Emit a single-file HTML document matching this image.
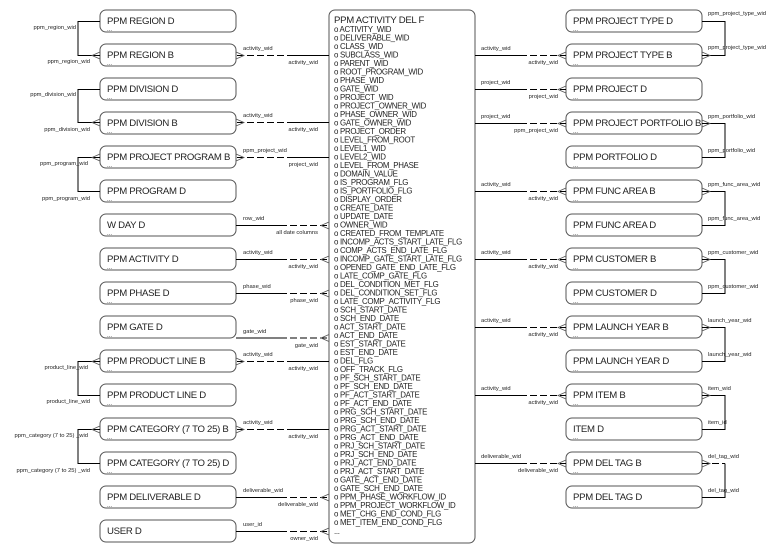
<!DOCTYPE html>
<html><head><meta charset="utf-8"><style>
html,body{margin:0;padding:0;background:#fff;}
svg{display:block;font-family:"Liberation Sans",Arial,sans-serif;}
.b{fill:#fff;stroke:#555;stroke-width:1;}
.t{font-size:9.6px;fill:#222;letter-spacing:-0.3px;}
.d{font-size:6px;fill:#444;}
.l{font-size:5.8px;fill:#222;}
.a{font-size:7.9px;fill:#222;letter-spacing:-0.3px;}
.s{stroke:#000;stroke-width:1;fill:none;}
.ds{stroke:#000;stroke-width:1;fill:none;stroke-dasharray:7,3;}
.f{stroke:#555;stroke-width:0.8;fill:none;}
</style></head><body>
<svg width="780" height="554" viewBox="0 0 780 554">
<g>
<rect class="b" x="100" y="10" width="136" height="22" rx="6"/><text class="t" x="107" y="24">PPM REGION D</text><text class="d" x="107" y="31">...</text>
<rect class="b" x="100" y="44" width="136" height="22" rx="6"/><text class="t" x="107" y="58">PPM REGION B</text><text class="d" x="107" y="65">...</text>
<rect class="b" x="100" y="78" width="136" height="22" rx="6"/><text class="t" x="107" y="92">PPM DIVISION D</text><text class="d" x="107" y="99">...</text>
<rect class="b" x="100" y="112" width="136" height="22" rx="6"/><text class="t" x="107" y="126">PPM DIVISION B</text><text class="d" x="107" y="133">...</text>
<rect class="b" x="100" y="146" width="136" height="22" rx="6"/><text class="t" x="107" y="160">PPM PROJECT PROGRAM B</text><text class="d" x="107" y="167">...</text>
<rect class="b" x="100" y="180" width="136" height="22" rx="6"/><text class="t" x="107" y="194">PPM PROGRAM D</text><text class="d" x="107" y="201">...</text>
<rect class="b" x="100" y="214" width="136" height="22" rx="6"/><text class="t" x="107" y="228">W DAY D</text><text class="d" x="107" y="235">...</text>
<rect class="b" x="100" y="248" width="136" height="22" rx="6"/><text class="t" x="107" y="262">PPM ACTIVITY D</text><text class="d" x="107" y="269">...</text>
<rect class="b" x="100" y="282" width="136" height="22" rx="6"/><text class="t" x="107" y="296">PPM PHASE D</text><text class="d" x="107" y="303">...</text>
<rect class="b" x="100" y="316" width="136" height="22" rx="6"/><text class="t" x="107" y="330">PPM GATE D</text><text class="d" x="107" y="337">...</text>
<rect class="b" x="100" y="350" width="136" height="22" rx="6"/><text class="t" x="107" y="364">PPM PRODUCT LINE B</text><text class="d" x="107" y="371">...</text>
<rect class="b" x="100" y="384" width="136" height="22" rx="6"/><text class="t" x="107" y="398">PPM PRODUCT LINE D</text><text class="d" x="107" y="405">...</text>
<rect class="b" x="100" y="418" width="136" height="22" rx="6"/><text class="t" x="107" y="432">PPM CATEGORY (7 TO 25) B</text><text class="d" x="107" y="439">...</text>
<rect class="b" x="100" y="452" width="136" height="22" rx="6"/><text class="t" x="107" y="466">PPM CATEGORY (7 TO 25) D</text><text class="d" x="107" y="473">...</text>
<rect class="b" x="100" y="486" width="136" height="22" rx="6"/><text class="t" x="107" y="500">PPM DELIVERABLE D</text><text class="d" x="107" y="507">...</text>
<rect class="b" x="100" y="520" width="136" height="22" rx="6"/><text class="t" x="107" y="534">USER D</text>
</g>
<g>
<rect class="b" x="566" y="10" width="136" height="22" rx="6"/><text class="t" x="573" y="24">PPM PROJECT TYPE D</text><text class="d" x="573" y="31">...</text>
<rect class="b" x="566" y="44" width="136" height="22" rx="6"/><text class="t" x="573" y="58">PPM PROJECT TYPE B</text><text class="d" x="573" y="65">...</text>
<rect class="b" x="566" y="78" width="136" height="22" rx="6"/><text class="t" x="573" y="92">PPM PROJECT D</text><text class="d" x="573" y="99">...</text>
<rect class="b" x="566" y="112" width="136" height="22" rx="6"/><text class="t" x="573" y="126">PPM PROJECT PORTFOLIO B</text><text class="d" x="573" y="133">...</text>
<rect class="b" x="566" y="146" width="136" height="22" rx="6"/><text class="t" x="573" y="160">PPM PORTFOLIO D</text><text class="d" x="573" y="167">...</text>
<rect class="b" x="566" y="180" width="136" height="22" rx="6"/><text class="t" x="573" y="194">PPM FUNC AREA B</text><text class="d" x="573" y="201">...</text>
<rect class="b" x="566" y="214" width="136" height="22" rx="6"/><text class="t" x="573" y="228">PPM FUNC AREA D</text><text class="d" x="573" y="235">...</text>
<rect class="b" x="566" y="248" width="136" height="22" rx="6"/><text class="t" x="573" y="262">PPM CUSTOMER B</text><text class="d" x="573" y="269">...</text>
<rect class="b" x="566" y="282" width="136" height="22" rx="6"/><text class="t" x="573" y="296">PPM CUSTOMER D</text><text class="d" x="573" y="303">...</text>
<rect class="b" x="566" y="316" width="136" height="22" rx="6"/><text class="t" x="573" y="330">PPM LAUNCH YEAR B</text><text class="d" x="573" y="337">...</text>
<rect class="b" x="566" y="350" width="136" height="22" rx="6"/><text class="t" x="573" y="364">PPM LAUNCH YEAR D</text><text class="d" x="573" y="371">...</text>
<rect class="b" x="566" y="384" width="136" height="22" rx="6"/><text class="t" x="573" y="398">PPM ITEM B</text><text class="d" x="573" y="405">...</text>
<rect class="b" x="566" y="418" width="136" height="22" rx="6"/><text class="t" x="573" y="432">ITEM D</text><text class="d" x="573" y="439">...</text>
<rect class="b" x="566" y="452" width="136" height="22" rx="6"/><text class="t" x="573" y="466">PPM DEL TAG B</text><text class="d" x="573" y="473">...</text>
<rect class="b" x="566" y="486" width="136" height="22" rx="6"/><text class="t" x="573" y="500">PPM DEL TAG D</text><text class="d" x="573" y="507">...</text>
</g>
<rect class="b" x="329" y="10" width="146" height="533" rx="6"/>
<text class="t" x="334" y="23">PPM ACTIVITY DEL F</text>
<g class="a">
<text x="334" y="32">o ACTIVITY_WID</text>
<text x="334" y="40.5">o DELIVERABLE_WID</text>
<text x="334" y="49">o CLASS_WID</text>
<text x="334" y="57.5">o SUBCLASS_WID</text>
<text x="334" y="66">o PARENT_WID</text>
<text x="334" y="74.5">o ROOT_PROGRAM_WID</text>
<text x="334" y="83">o PHASE_WID</text>
<text x="334" y="91.5">o GATE_WID</text>
<text x="334" y="100">o PROJECT_WID</text>
<text x="334" y="108.5">o PROJECT_OWNER_WID</text>
<text x="334" y="117">o PHASE_OWNER_WID</text>
<text x="334" y="125.5">o GATE_OWNER_WID</text>
<text x="334" y="134">o PROJECT_ORDER</text>
<text x="334" y="142.5">o LEVEL_FROM_ROOT</text>
<text x="334" y="151">o LEVEL1_WID</text>
<text x="334" y="159.5">o LEVEL2_WID</text>
<text x="334" y="168">o LEVEL_FROM_PHASE</text>
<text x="334" y="176.5">o DOMAIN_VALUE</text>
<text x="334" y="185">o IS_PROGRAM_FLG</text>
<text x="334" y="193.5">o IS_PORTFOLIO_FLG</text>
<text x="334" y="202">o DISPLAY_ORDER</text>
<text x="334" y="210.5">o CREATE_DATE</text>
<text x="334" y="219">o UPDATE_DATE</text>
<text x="334" y="227.5">o OWNER_WID</text>
<text x="334" y="236">o CREATED_FROM_TEMPLATE</text>
<text x="334" y="244.5">o INCOMP_ACTS_START_LATE_FLG</text>
<text x="334" y="253">o COMP_ACTS_END_LATE_FLG</text>
<text x="334" y="261.5">o INCOMP_GATE_START_LATE_FLG</text>
<text x="334" y="270">o OPENED_GATE_END_LATE_FLG</text>
<text x="334" y="278.5">o LATE_COMP_GATE_FLG</text>
<text x="334" y="287">o DEL_CONDITION_MET_FLG</text>
<text x="334" y="295.5">o DEL_CONDITION_SET_FLG</text>
<text x="334" y="304">o LATE_COMP_ACTIVITY_FLG</text>
<text x="334" y="312.5">o SCH_START_DATE</text>
<text x="334" y="321">o SCH_END_DATE</text>
<text x="334" y="329.5">o ACT_START_DATE</text>
<text x="334" y="338">o ACT_END_DATE</text>
<text x="334" y="346.5">o EST_START_DATE</text>
<text x="334" y="355">o EST_END_DATE</text>
<text x="334" y="363.5">o DEL_FLG</text>
<text x="334" y="372">o OFF_TRACK_FLG</text>
<text x="334" y="380.5">o PF_SCH_START_DATE</text>
<text x="334" y="389">o PF_SCH_END_DATE</text>
<text x="334" y="397.5">o PF_ACT_START_DATE</text>
<text x="334" y="406">o PF_ACT_END_DATE</text>
<text x="334" y="414.5">o PRG_SCH_START_DATE</text>
<text x="334" y="423">o PRG_SCH_END_DATE</text>
<text x="334" y="431.5">o PRG_ACT_START_DATE</text>
<text x="334" y="440">o PRG_ACT_END_DATE</text>
<text x="334" y="448.5">o PRJ_SCH_START_DATE</text>
<text x="334" y="457">o PRJ_SCH_END_DATE</text>
<text x="334" y="465.5">o PRJ_ACT_END_DATE</text>
<text x="334" y="474">o PRJ_ACT_START_DATE</text>
<text x="334" y="482.5">o GATE_ACT_END_DATE</text>
<text x="334" y="491">o GATE_SCH_END_DATE</text>
<text x="334" y="499.5">o PPM_PHASE_WORKFLOW_ID</text>
<text x="334" y="508">o PPM_PROJECT_WORKFLOW_ID</text>
<text x="334" y="516.5">o MET_CHG_END_COND_FLG</text>
<text x="334" y="525">o MET_ITEM_END_COND_FLG</text>
<text x="334" y="534">...</text>
</g>

<g>
<path class="ds" d="M237 55.5H292"/><path class="s" d="M292 55.5H329"/><path class="f" d="M236 52L244 55.5L236 59"/>
<text class="l" x="243" y="50">activity_wid</text><text class="l" x="318" y="64" text-anchor="end">activity_wid</text>
<path class="ds" d="M237 122.5H292"/><path class="s" d="M292 122.5H329"/><path class="f" d="M236 119L244 122.5L236 126"/>
<text class="l" x="243" y="117">activity_wid</text><text class="l" x="318" y="131" text-anchor="end">activity_wid</text>
<path class="ds" d="M237 157.5H292"/><path class="s" d="M292 157.5H329"/><path class="f" d="M236 154L244 157.5L236 161"/>
<text class="l" x="243" y="152">ppm_project_wid</text><text class="l" x="318" y="166" text-anchor="end">project_wid</text>
<path class="ds" d="M237 361.5H292"/><path class="s" d="M292 361.5H329"/><path class="f" d="M236 358L244 361.5L236 365"/>
<text class="l" x="243" y="356">activity_wid</text><text class="l" x="318" y="370" text-anchor="end">activity_wid</text>
<path class="ds" d="M237 429.5H292"/><path class="s" d="M292 429.5H329"/><path class="f" d="M236 426L244 429.5L236 433"/>
<text class="l" x="243" y="424">activity_wid</text><text class="l" x="318" y="438" text-anchor="end">activity_wid</text>
</g>
<g>
<path class="s" d="M236 225.5H280"/><path class="ds" d="M280 225.5H329"/><path class="f" d="M329 222L321 225.5L329 229"/>
<text class="l" x="243" y="220">row_wid</text><text class="l" x="318" y="234" text-anchor="end">all date columns</text>
<path class="s" d="M236 259.5H280"/><path class="ds" d="M280 259.5H329"/><path class="f" d="M329 256L321 259.5L329 263"/>
<text class="l" x="243" y="254">activity_wid</text><text class="l" x="318" y="268" text-anchor="end">activity_wid</text>
<path class="s" d="M236 293.5H280"/><path class="ds" d="M280 293.5H329"/><path class="f" d="M329 290L321 293.5L329 297"/>
<text class="l" x="243" y="288">phase_wid</text><text class="l" x="318" y="302" text-anchor="end">phase_wid</text>
<path class="s" d="M236 338H280"/><path class="ds" d="M280 338H329"/><path class="f" d="M329 334.5L321 338L329 341.5"/>
<text class="l" x="243" y="333">gate_wid</text><text class="l" x="318" y="347" text-anchor="end">gate_wid</text>
<path class="s" d="M236 497.5H280"/><path class="ds" d="M280 497.5H329"/><path class="f" d="M329 494L321 497.5L329 501"/>
<text class="l" x="243" y="492">deliverable_wid</text><text class="l" x="318" y="506" text-anchor="end">deliverable_wid</text>
<path class="s" d="M236 531.5H280"/><path class="ds" d="M280 531.5H329"/><path class="f" d="M329 528L321 531.5L329 535"/>
<text class="l" x="243" y="526">user_id</text><text class="l" x="318" y="540" text-anchor="end">owner_wid</text>
</g>
<g>
<path class="s" d="M100 21.5H78V55.5H100"/><path class="f" d="M100 52L92 55.5L100 59"/>
<text class="l" x="76" y="29" text-anchor="end">ppm_region_wid</text><text class="l" x="90" y="63" text-anchor="end">ppm_region_wid</text>
<path class="s" d="M100 89.5H78V122.5H100"/><path class="f" d="M100 119L92 122.5L100 126"/>
<text class="l" x="76" y="96" text-anchor="end">ppm_division_wid</text><text class="l" x="90" y="131" text-anchor="end">ppm_division_wid</text>
<path class="s" d="M100 157.5H78V191.5H100"/><path class="f" d="M100 154L92 157.5L100 161"/>
<text class="l" x="88" y="165" text-anchor="end">ppm_program_wid</text><text class="l" x="90" y="200" text-anchor="end">ppm_program_wid</text>
<path class="s" d="M100 361.5H78V395.5H100"/><path class="f" d="M100 358L92 361.5L100 365"/>
<text class="l" x="88" y="369" text-anchor="end">product_line_wid</text><text class="l" x="90" y="403" text-anchor="end">product_line_wid</text>
<path class="s" d="M100 429.5H78V463.5H100"/><path class="f" d="M100 426L92 429.5L100 433"/>
<text class="l" x="88" y="437" text-anchor="end">ppm_category (7 to 25) _wid</text><text class="l" x="90" y="472" text-anchor="end">ppm_category (7 to 25) _wid</text>
</g>
<g>
<path class="s" d="M475 55.5H520"/><path class="ds" d="M520 55.5H566"/><path class="f" d="M566 52L558 55.5L566 59"/>
<text class="l" x="481" y="50">activity_wid</text><text class="l" x="558" y="64" text-anchor="end">activity_wid</text>
<path class="s" d="M475 89.5H520"/><path class="ds" d="M520 89.5H566"/><path class="f" d="M566 86L558 89.5L566 93"/>
<text class="l" x="481" y="84">project_wid</text><text class="l" x="558" y="98" text-anchor="end">project_wid</text>
<path class="s" d="M475 123.5H520"/><path class="ds" d="M520 123.5H566"/><path class="f" d="M566 120L558 123.5L566 127"/>
<text class="l" x="481" y="118">project_wid</text><text class="l" x="558" y="132" text-anchor="end">ppm_project_wid</text>
<path class="s" d="M475 191.5H520"/><path class="ds" d="M520 191.5H566"/><path class="f" d="M566 188L558 191.5L566 195"/>
<text class="l" x="481" y="186">activity_wid</text><text class="l" x="558" y="200" text-anchor="end">activity_wid</text>
<path class="s" d="M475 259.5H520"/><path class="ds" d="M520 259.5H566"/><path class="f" d="M566 256L558 259.5L566 263"/>
<text class="l" x="481" y="254">activity_wid</text><text class="l" x="558" y="268" text-anchor="end">activity_wid</text>
<path class="s" d="M475 327.5H520"/><path class="ds" d="M520 327.5H566"/><path class="f" d="M566 324L558 327.5L566 331"/>
<text class="l" x="481" y="322">activity_wid</text><text class="l" x="558" y="336" text-anchor="end">activity_wid</text>
<path class="s" d="M475 395.5H520"/><path class="ds" d="M520 395.5H566"/><path class="f" d="M566 392L558 395.5L566 399"/>
<text class="l" x="481" y="390">activity_wid</text><text class="l" x="558" y="404" text-anchor="end">activity_wid</text>
<path class="s" d="M475 463.5H520"/><path class="ds" d="M520 463.5H566"/><path class="f" d="M566 460L558 463.5L566 467"/>
<text class="l" x="481" y="458">deliverable_wid</text><text class="l" x="558" y="472" text-anchor="end">deliverable_wid</text>
</g>
<g>
<path class="s" d="M702 21.5H725V55.5H702"/><path class="f" d="M702 52L710 55.5L702 59"/>
<text class="l" x="708" y="15">ppm_project_type_wid</text><text class="l" x="708" y="49">ppm_project_type_wid</text>
<path class="s" d="M702 123.5H725V157.5H702"/><path class="f" d="M702 120L710 123.5L702 127"/>
<text class="l" x="708" y="118">ppm_portfolio_wid</text><text class="l" x="708" y="152">ppm_portfolio_wid</text>
<path class="s" d="M702 191.5H725V225.5H702"/><path class="f" d="M702 188L710 191.5L702 195"/>
<text class="l" x="708" y="186">ppm_func_area_wid</text><text class="l" x="708" y="220">ppm_func_area_wid</text>
<path class="s" d="M702 259.5H725V293.5H702"/><path class="f" d="M702 256L710 259.5L702 263"/>
<text class="l" x="708" y="254">ppm_customer_wid</text><text class="l" x="708" y="288">ppm_customer_wid</text>
<path class="s" d="M702 327.5H725V361.5H702"/><path class="f" d="M702 324L710 327.5L702 331"/>
<text class="l" x="708" y="322">launch_year_wid</text><text class="l" x="708" y="356">launch_year_wid</text>
<path class="s" d="M702 395.5H725V429.5H702"/><path class="f" d="M702 392L710 395.5L702 399"/>
<text class="l" x="708" y="390">item_wid</text><text class="l" x="708" y="424">item_id</text>
<path class="ds" d="M702 463.5H725"/><path class="s" d="M725 463.5V497.5H702"/><path class="f" d="M702 460L710 463.5L702 467"/>
<text class="l" x="708" y="458">del_tag_wid</text><text class="l" x="708" y="492">del_tag_wid</text>
</g>
</svg>
</body></html>
